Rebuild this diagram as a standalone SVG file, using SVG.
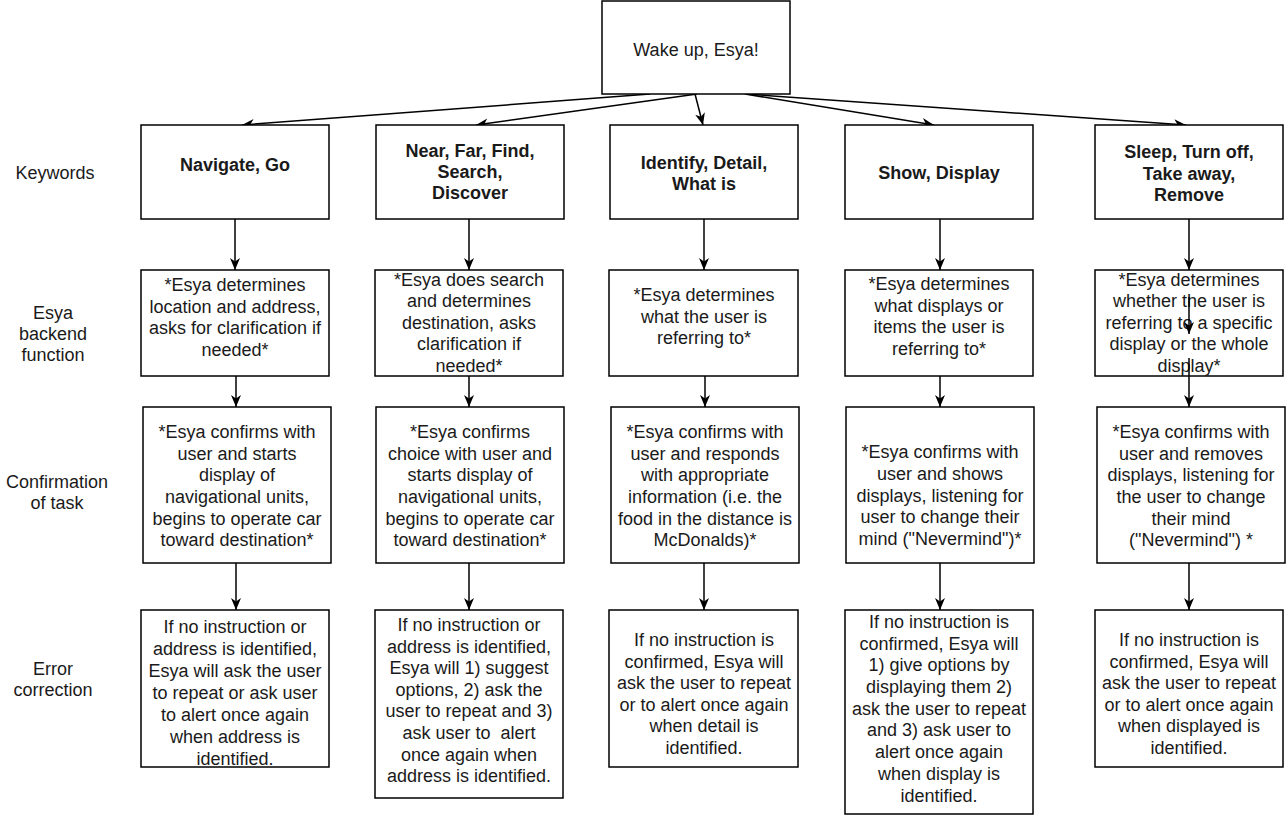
<svg xmlns="http://www.w3.org/2000/svg" width="1287" height="816" viewBox="0 0 1287 816">
<style>
.box{fill:#fff;stroke:#000;stroke-width:1.5}
.t{font-family:"Liberation Sans",Arial,Helvetica,sans-serif;font-size:18px;fill:#1a1a1a;text-anchor:middle}
.b{font-weight:bold}
.c{fill:none;stroke:#000;stroke-width:1.5}
</style>
<defs>
<marker id="ah" markerUnits="userSpaceOnUse" markerWidth="14" markerHeight="12" refX="12" refY="6" orient="auto">
<path d="M0,1 L12,6 L0,11 L3.5,6 z" fill="#000"/>
</marker>
</defs>
<rect width="1287" height="816" fill="#fff"/>
<g id="row-labels">
<text class="t" x="55" y="179">Keywords</text>
<text class="t" x="53" y="319">Esya</text>
<text class="t" x="53" y="340">backend</text>
<text class="t" x="53" y="361">function</text>
<text class="t" x="57" y="488">Confirmation</text>
<text class="t" x="57" y="509">of task</text>
<text class="t" x="53" y="675">Error</text>
<text class="t" x="53" y="696">correction</text>
</g>
<g id="connectors">
<path class="c" d="M650,94 L242,125" marker-end="url(#ah)"/>
<path class="c" d="M697,94 L476,125" marker-end="url(#ah)"/>
<path class="c" d="M695,94 L703,125" marker-end="url(#ah)"/>
<path class="c" d="M745,94 L934,125" marker-end="url(#ah)"/>
<path class="c" d="M745,94 L1186,125" marker-end="url(#ah)"/>
<path class="c" d="M235,219 L235,270" marker-end="url(#ah)"/>
<path class="c" d="M469,219 L469,270" marker-end="url(#ah)"/>
<path class="c" d="M704,219 L704,270" marker-end="url(#ah)"/>
<path class="c" d="M940,219 L940,270" marker-end="url(#ah)"/>
<path class="c" d="M1189,219 L1189,270" marker-end="url(#ah)"/>
<path class="c" d="M236,376 L236,407" marker-end="url(#ah)"/>
<path class="c" d="M469,376 L469,407" marker-end="url(#ah)"/>
<path class="c" d="M705,376 L705,407" marker-end="url(#ah)"/>
<path class="c" d="M940,376 L940,407" marker-end="url(#ah)"/>
<path class="c" d="M1189,376 L1189,407" marker-end="url(#ah)"/>
<path class="c" d="M236,563 L236,610" marker-end="url(#ah)"/>
<path class="c" d="M469,563 L469,610" marker-end="url(#ah)"/>
<path class="c" d="M704,563 L704,610" marker-end="url(#ah)"/>
<path class="c" d="M940,563 L940,610" marker-end="url(#ah)"/>
<path class="c" d="M1189,563 L1189,610" marker-end="url(#ah)"/>
</g>
<g id="start">
<rect class="box" x="602" y="1" width="188" height="93"/>
<text class="t" x="696" y="56">Wake up, Esya!</text>
</g>
<g id="kw1"><rect class="box" x="141" y="125" width="188" height="94"/>
<text class="t b" x="235" y="171">Navigate, Go</text></g>
<g id="kw2"><rect class="box" x="376" y="125" width="188" height="94"/>
<text class="t b" x="470" y="157">Near, Far, Find,</text>
<text class="t b" x="470" y="178">Search,</text>
<text class="t b" x="470" y="199">Discover</text></g>
<g id="kw3"><rect class="box" x="610" y="125" width="188" height="94"/>
<text class="t b" x="704" y="169">Identify, Detail,</text>
<text class="t b" x="704" y="190">What is</text></g>
<g id="kw4"><rect class="box" x="845" y="125" width="188" height="94"/>
<text class="t b" x="939" y="179">Show, Display</text></g>
<g id="kw5"><rect class="box" x="1095" y="125" width="188" height="94"/>
<text class="t b" x="1189" y="158">Sleep, Turn off,</text>
<text class="t b" x="1189" y="180">Take away,</text>
<text class="t b" x="1189" y="201">Remove</text></g>

<g id="be1"><rect class="box" x="141" y="270" width="188" height="106"/>
<text class="t" x="235" y="291">*Esya determines</text>
<text class="t" x="235" y="313">location and address,</text>
<text class="t" x="235" y="334">asks for clarification if</text>
<text class="t" x="235" y="356">needed*</text></g>
<g id="be2"><rect class="box" x="375" y="270" width="188" height="106"/>
<text class="t" x="469" y="286">*Esya does search</text>
<text class="t" x="469" y="307">and determines</text>
<text class="t" x="469" y="329">destination, asks</text>
<text class="t" x="469" y="350">clarification if</text>
<text class="t" x="469" y="372">needed*</text></g>
<g id="be3"><rect class="box" x="609" y="270" width="189" height="106"/>
<text class="t" x="704" y="301">*Esya determines</text>
<text class="t" x="704" y="323">what the user is</text>
<text class="t" x="704" y="344">referring to*</text></g>
<g id="be4"><rect class="box" x="845" y="270" width="188" height="106"/>
<text class="t" x="939" y="290">*Esya determines</text>
<text class="t" x="939" y="312">what displays or</text>
<text class="t" x="939" y="333">items the user is</text>
<text class="t" x="939" y="355">referring to*</text></g>
<g id="be5"><rect class="box" x="1095" y="270" width="188" height="106"/>
<text class="t" x="1189" y="286">*Esya determines</text>
<text class="t" x="1189" y="307">whether the user is</text>
<text class="t" x="1189" y="329">referring to a specific</text>
<text class="t" x="1189" y="350">display or the whole</text>
<text class="t" x="1189" y="372">display*</text>
<path class="c" d="M1189,297 L1189,334" marker-end="url(#ah)"/>
<path class="c" d="M1189,358 L1189,376"/></g>

<g id="cf1"><rect class="box" x="143" y="407" width="188" height="156"/>
<text class="t" x="237" y="438">*Esya confirms with</text>
<text class="t" x="237" y="460">user and starts</text>
<text class="t" x="237" y="481">display of</text>
<text class="t" x="237" y="503">navigational units,</text>
<text class="t" x="237" y="525">begins to operate car</text>
<text class="t" x="237" y="546">toward destination*</text></g>
<g id="cf2"><rect class="box" x="376" y="407" width="188" height="156"/>
<text class="t" x="470" y="438">*Esya confirms</text>
<text class="t" x="470" y="460">choice with user and</text>
<text class="t" x="470" y="481">starts display of</text>
<text class="t" x="470" y="503">navigational units,</text>
<text class="t" x="470" y="525">begins to operate car</text>
<text class="t" x="470" y="546">toward destination*</text></g>
<g id="cf3"><rect class="box" x="611" y="407" width="188" height="156"/>
<text class="t" x="705" y="438">*Esya confirms with</text>
<text class="t" x="705" y="460">user and responds</text>
<text class="t" x="705" y="481">with appropriate</text>
<text class="t" x="705" y="503">information (i.e. the</text>
<text class="t" x="705" y="525">food in the distance is</text>
<text class="t" x="705" y="546">McDonalds)*</text></g>
<g id="cf4"><rect class="box" x="846" y="407" width="188" height="156"/>
<text class="t" x="940" y="458">*Esya confirms with</text>
<text class="t" x="940" y="480">user and shows</text>
<text class="t" x="940" y="502">displays, listening for</text>
<text class="t" x="940" y="523">user to change their</text>
<text class="t" x="940" y="545">mind ("Nevermind")*</text></g>
<g id="cf5"><rect class="box" x="1097" y="407" width="188" height="156"/>
<text class="t" x="1191" y="438">*Esya confirms with</text>
<text class="t" x="1191" y="460">user and removes</text>
<text class="t" x="1191" y="481">displays, listening for</text>
<text class="t" x="1191" y="503">the user to change</text>
<text class="t" x="1191" y="525">their mind</text>
<text class="t" x="1191" y="546">("Nevermind") *</text></g>

<g id="er1"><rect class="box" x="141" y="610" width="188" height="157"/>
<text class="t" x="235" y="633">If no instruction or</text>
<text class="t" x="235" y="655">address is identified,</text>
<text class="t" x="235" y="677">Esya will ask the user</text>
<text class="t" x="235" y="699">to repeat or ask user</text>
<text class="t" x="235" y="721">to alert once again</text>
<text class="t" x="235" y="743">when address is</text>
<text class="t" x="235" y="765">identified.</text></g>
<g id="er2"><rect class="box" x="375" y="610" width="188" height="188"/>
<text class="t" x="469" y="631">If no instruction or</text>
<text class="t" x="469" y="653">address is identified,</text>
<text class="t" x="469" y="674">Esya will 1) suggest</text>
<text class="t" x="469" y="696">options, 2) ask the</text>
<text class="t" x="469" y="717">user to repeat and 3)</text>
<text class="t" x="469" y="739" xml:space="preserve">ask user to  alert</text>
<text class="t" x="469" y="761">once again when</text>
<text class="t" x="469" y="782">address is identified.</text></g>
<g id="er3"><rect class="box" x="609" y="610" width="189" height="157"/>
<text class="t" x="704" y="646">If no instruction is</text>
<text class="t" x="704" y="668">confirmed, Esya will</text>
<text class="t" x="704" y="689">ask the user to repeat</text>
<text class="t" x="704" y="711">or to alert once again</text>
<text class="t" x="704" y="732">when detail is</text>
<text class="t" x="704" y="754">identified.</text></g>
<g id="er4"><rect class="box" x="845" y="610" width="188" height="204"/>
<text class="t" x="939" y="628">If no instruction is</text>
<text class="t" x="939" y="650">confirmed, Esya will</text>
<text class="t" x="939" y="671">1) give options by</text>
<text class="t" x="939" y="693">displaying them 2)</text>
<text class="t" x="939" y="715">ask the user to repeat</text>
<text class="t" x="939" y="736">and 3) ask user to</text>
<text class="t" x="939" y="758">alert once again</text>
<text class="t" x="939" y="780">when display is</text>
<text class="t" x="939" y="802">identified.</text></g>
<g id="er5"><rect class="box" x="1095" y="610" width="188" height="157"/>
<text class="t" x="1189" y="646">If no instruction is</text>
<text class="t" x="1189" y="668">confirmed, Esya will</text>
<text class="t" x="1189" y="689">ask the user to repeat</text>
<text class="t" x="1189" y="711">or to alert once again</text>
<text class="t" x="1189" y="732">when displayed is</text>
<text class="t" x="1189" y="754">identified.</text></g>
</svg>
